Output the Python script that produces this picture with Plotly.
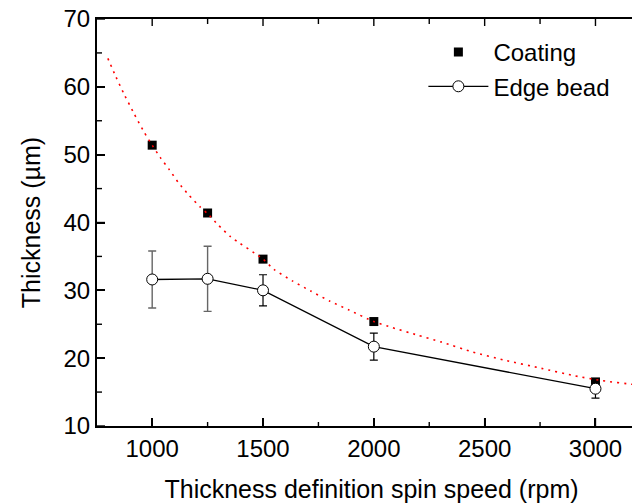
import plotly.graph_objects as go

# Data
speed = [1000, 1250, 1500, 2000, 3000]
coating = [51.4, 41.4, 34.6, 25.4, 16.5]
edge_bead = [31.6, 31.7, 30.0, 21.7, 15.5]
edge_err = [4.2, 4.8, 2.3, 2.0, 1.4]

# Fit curve (red dotted)
fit_x = [800, 836, 875, 919, 964, 1000, 1036, 1077, 1118, 1164, 1216, 1250, 1299, 1354,
         1500, 1549, 1632, 1715, 1802, 1888, 2000, 2084, 2197, 2303, 2447, 2590, 2756,
         2906, 3027, 3178, 3210]
fit_y = [64.2, 61.5, 58.8, 56.0, 53.3, 51.4, 49.6, 47.8, 45.9, 44.1, 42.3, 41.3, 39.6, 37.9,
         34.6, 33.1, 31.4, 29.9, 28.4, 27.1, 25.4, 24.5, 23.4, 22.4, 20.9, 19.7, 18.5,
         17.4, 16.7, 16.1, 16.0]

x_tick_vals = [1000, 1500, 2000, 2500, 3000]
x_minor_vals = [1250, 1750, 2250, 2750]
y_tick_vals = [10, 20, 30, 40, 50, 60, 70]
y_minor_vals = [15, 25, 35, 45, 55, 65]

X_RANGE = [751, 3228]
Y_RANGE = [10, 70]

FONT = "Liberation Sans, Arial, sans-serif"

fig = go.Figure()

fig.add_trace(go.Scatter(
    x=speed, y=coating, mode="markers", name="Coating",
    marker=dict(symbol="square", size=9, color="black"),
))

# error bars: first two grey, others black
fig.add_trace(go.Scatter(
    x=speed[:2], y=edge_bead[:2], mode="markers", showlegend=False,
    marker=dict(size=1, color="rgba(0,0,0,0)"),
    error_y=dict(type="data", array=edge_err[:2], color="#666666", thickness=1.4, width=4),
    hoverinfo="skip",
))
fig.add_trace(go.Scatter(
    x=speed[2:], y=edge_bead[2:], mode="markers", showlegend=False,
    marker=dict(size=1, color="rgba(0,0,0,0)"),
    error_y=dict(type="data", array=edge_err[2:], color="black", thickness=1.2, width=4),
    hoverinfo="skip",
))

fig.add_trace(go.Scatter(
    x=speed, y=edge_bead, mode="lines+markers", name="Edge bead",
    line=dict(color="black", width=1.3),
    marker=dict(symbol="circle", size=11, color="white", line=dict(color="black", width=1)),
))

fig.add_trace(go.Scatter(
    x=fit_x, y=fit_y, mode="lines", showlegend=False,
    line=dict(color="red", width=1.6, dash="2px,5px", shape="spline", smoothing=0.6),
    hoverinfo="skip",
))

# inward tick marks, anchored on the axis values and sized in pixels
tick_line = dict(color="black", width=1.4)
for v, ln in [(v, 8) for v in x_tick_vals] + [(v, 4) for v in x_minor_vals]:
    fig.add_shape(type="line", xref="x", yref="y", x0=v, x1=v,
                  ysizemode="pixel", yanchor=Y_RANGE[0], y0=0, y1=ln, line=tick_line)
for v, ln in [(v, 7) for v in x_tick_vals] + [(v, 5) for v in x_minor_vals]:
    fig.add_shape(type="line", xref="x", yref="y", x0=v, x1=v,
                  ysizemode="pixel", yanchor=Y_RANGE[1], y0=0, y1=-ln, line=tick_line)
for v, ln in [(v, 8) for v in y_tick_vals] + [(v, 5) for v in y_minor_vals]:
    fig.add_shape(type="line", xref="x", yref="y", y0=v, y1=v,
                  xsizemode="pixel", xanchor=X_RANGE[0], x0=0, x1=ln, line=tick_line)
    fig.add_shape(type="line", xref="x", yref="y", y0=v, y1=v,
                  xsizemode="pixel", xanchor=X_RANGE[1], x0=0, x1=-ln, line=tick_line)

fig.update_layout(
    width=640, height=504,
    margin=dict(l=89, r=2, t=11, b=86, autoexpand=False),
    paper_bgcolor="white", plot_bgcolor="white",
    font=dict(family=FONT, color="black", size=24),
    showlegend=True,
    legend=dict(
        x=0.5945, y=0.973, xanchor="left", yanchor="top",
        bgcolor="rgba(0,0,0,0)", font=dict(size=24, family=FONT),
        itemwidth=60, tracegroupgap=0,
    ),
    xaxis=dict(
        range=X_RANGE, tickmode="array", tickvals=x_tick_vals,
        ticktext=[str(v) for v in x_tick_vals],
        showline=True, linecolor="black", linewidth=2, mirror=True,
        ticks="inside", ticklen=8, tickwidth=1.5, tickcolor="black",
        showgrid=False, zeroline=False, automargin=False, ticklabeloverflow="allow",
        tickfont=dict(size=24, family=FONT),
        title=dict(text="Thickness definition spin speed (rpm)", font=dict(size=25, family=FONT), standoff=20),
    ),
    yaxis=dict(
        range=Y_RANGE, tickmode="array", tickvals=y_tick_vals,
        ticktext=[str(v) for v in y_tick_vals],
        showline=True, linecolor="black", linewidth=2, mirror=True,
        ticks="inside", ticklen=8, tickwidth=1.5, tickcolor="black",
        showgrid=False, zeroline=False, automargin=False, ticklabeloverflow="allow",
        tickfont=dict(size=24, family=FONT),
        title=dict(text="Thickness (µm)", font=dict(size=25, family=FONT), standoff=16),
    ),
)

fig.write_html("out.html")
